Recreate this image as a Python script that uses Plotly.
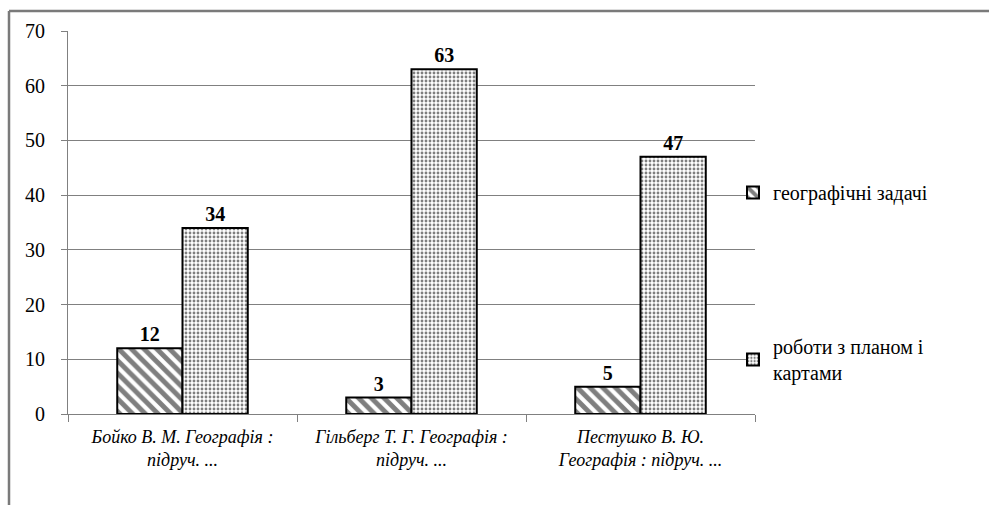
import plotly.graph_objects as go

# Textbooks compared (category labels, two lines each)
categories = [
    "Бойко В. М. Географія :<br>підруч. ...",
    "Гільберг Т. Г. Географія :<br>підруч. ...",
    "Пестушко В. Ю.<br>Географія : підруч. ...",
]
tasks_geo = [12, 3, 5]          # географічні задачі
tasks_maps = [34, 63, 47]       # роботи з планом і картами
y_ticks = [0, 10, 20, 30, 40, 50, 60, 70]

SERIF = "Liberation Serif"
GRID = "#808080"

W, H = 989, 505
ML, MR, MT, MB = 68, 234, 31, 91

fig = go.Figure()

fig.add_trace(go.Bar(
    x=categories, y=tasks_geo, name="географічні задачі",
    legendgroup="a",
    marker=dict(color="white",
                line=dict(color="black", width=2),
                pattern=dict(shape="\\", size=9, solidity=0.55,
                             fgcolor="black", bgcolor="white")),
    text=tasks_geo, textposition="outside", cliponaxis=False,
    textfont=dict(family=SERIF, size=20, color="black", weight="bold"),
))
fig.add_trace(go.Bar(
    x=categories, y=tasks_maps, name="роботи з планом і<br>картами",
    legendgroup="b",
    marker=dict(color="white",
                line=dict(color="black", width=2),
                pattern=dict(shape=".", size=4, solidity=0.4,
                             fgcolor="black", bgcolor="white")),
    text=tasks_maps, textposition="outside", cliponaxis=False,
    textfont=dict(family=SERIF, size=20, color="black", weight="bold"),
))

# outer frame of the chart area (pixel positions converted to paper units)
pw, ph = W - ML - MR, H - MT - MB
def px_x(v):
    return (v - ML) / pw
def px_y(v):
    return 1 - (v - MT) / ph

fig.add_shape(type="line", xref="paper", yref="paper",
              x0=px_x(9), x1=px_x(995), y0=px_y(11), y1=px_y(11),
              line=dict(color="#7a7a7a", width=2.5))
fig.add_shape(type="line", xref="paper", yref="paper",
              x0=px_x(9), x1=px_x(9), y0=px_y(11), y1=px_y(510),
              line=dict(color="#7a7a7a", width=2.5))

fig.update_layout(
    width=W, height=H,
    margin=dict(l=ML, r=MR, t=MT, b=MB, autoexpand=False),
    paper_bgcolor="white", plot_bgcolor="white",
    barmode="group", bargap=0.43, bargroupgap=0,
    font=dict(family=SERIF, color="black"),
    showlegend=True,
    legend=dict(
        x=px_x(733), xanchor="left",
        y=px_y(173), yanchor="top",
        font=dict(family=SERIF, size=20, color="black"),
        bgcolor="rgba(0,0,0,0)",
        traceorder="grouped", tracegroupgap=125,
        itemwidth=30,
    ),
)

fig.update_xaxes(
    showline=True, linecolor=GRID, linewidth=1,
    ticks="outside", tickson="boundaries", ticklen=7, tickcolor=GRID,
    ticklabelstandoff=6, tickangle=0, automargin=False,
    tickfont=dict(family=SERIF, size=18, color="black", style="italic"),
    showgrid=False,
)
fig.update_yaxes(
    range=[0, 70], tickvals=y_ticks,
    showline=True, linecolor=GRID, linewidth=1,
    showgrid=True, gridcolor=GRID, gridwidth=1,
    ticks="outside", ticklen=6, tickcolor=GRID,
    ticklabelstandoff=12, automargin=False,
    tickfont=dict(family=SERIF, size=20, color="black"),
    zeroline=False,
)

fig.write_html("out.html")
